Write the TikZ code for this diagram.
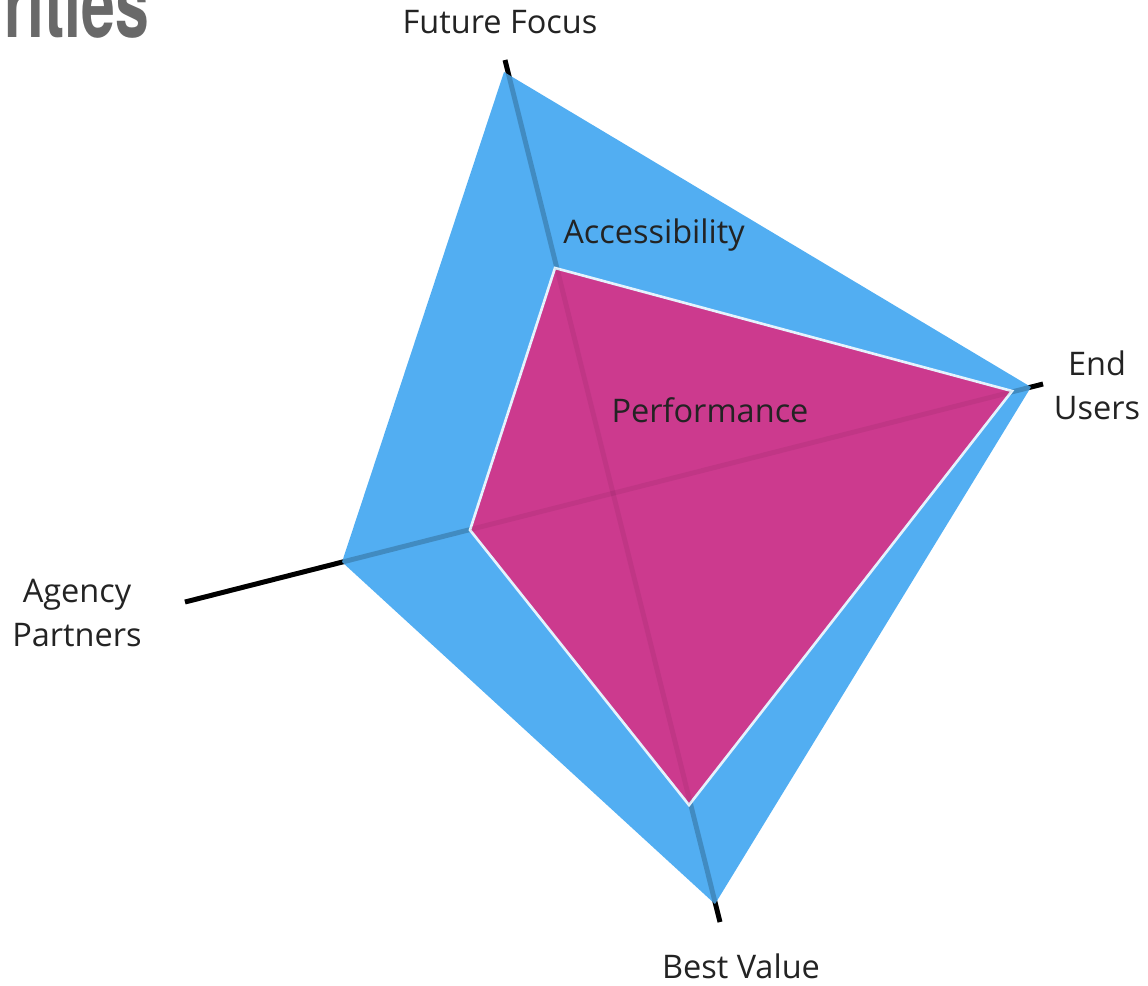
\documentclass[tikz,border=0pt]{standalone}
\usepackage{fontspec}
\setmainfont{Open Sans}
\newfontfamily\titlefont{TeX Gyre Heros}
\definecolor{radarblue}{RGB}{82,174,242}
\definecolor{radarpink}{RGB}{204,58,142}
\definecolor{labelgray}{RGB}{35,35,35}
\definecolor{titlegray}{RGB}{105,105,105}
\tikzset{
    axisline/.style={line width=2.8pt,black},
    axislabel/.style={text=labelgray,font=\fontsize{18.5}{25}\selectfont,align=center,inner sep=0pt},
}
\begin{document}
\begin{tikzpicture}[x=0.02cm,y=-0.02cm]
    \useasboundingbox (0,0) rectangle (1148,985);
    %% Title (cut off)
    \node[anchor=base west,inner sep=0pt,text=titlegray,xscale=0.64] (title) at (4,37) {\titlefont\bfseries\fontsize{54}{60}\selectfont rities};
    %% Axis ends
    \coordinate (ctr) at (612,494);
    \coordinate (ffEnd) at (505,60);
    \coordinate (euEnd) at (1043,384);
    \coordinate (bvEnd) at (720,922);
    \coordinate (apEnd) at (185,602);
    %% Outer polygon
    \coordinate (ffOut) at (504,72);
    \coordinate (euOut) at (1031,387);
    \coordinate (bvOut) at (715,904);
    \coordinate (apOut) at (342,562);
    %% Inner polygon
    \coordinate (ffIn) at (555,268);
    \coordinate (euIn) at (1012,391);
    \coordinate (bvIn) at (689,805);
    \coordinate (apIn) at (470,530);
    %% Axes
    \draw[axisline] (ffEnd) -- (bvEnd);
    \draw[axisline] (apEnd) -- (euEnd);
    %% Blue area
    \fill[radarblue] (ffOut) -- (euOut) -- (bvOut) -- (apOut) -- cycle;
    \draw[axisline,opacity=0.2] (ffEnd) -- (bvEnd);
    \draw[axisline,opacity=0.2] (apEnd) -- (euEnd);
    %% Pink area
    \draw[fill=radarpink,draw=white!85!radarblue,line width=1.5pt] (ffIn) -- (euIn) -- (bvIn) -- (apIn) -- cycle;
    \begin{scope}
        \clip (ffIn) -- (euIn) -- (bvIn) -- (apIn) -- cycle;
        \draw[axisline,opacity=0.06] (ffEnd) -- (bvEnd);
        \draw[axisline,opacity=0.06] (apEnd) -- (euEnd);
    \end{scope}
    %% Labels
    \node[axislabel] (ffLabel) at (500,22) {Future Focus};
    \node[axislabel] (euLabel) at (1097,385) {End\\Users};
    \node[axislabel] (bvLabel) at (741,966) {Best Value};
    \node[axislabel] (apLabel) at (77,613) {Agency\\Partners};
    \node[axislabel] (accLabel) at (654,235) {Accessibility};
    \node[axislabel] (perfLabel) at (710,410) {Performance};
\end{tikzpicture}
\end{document}
